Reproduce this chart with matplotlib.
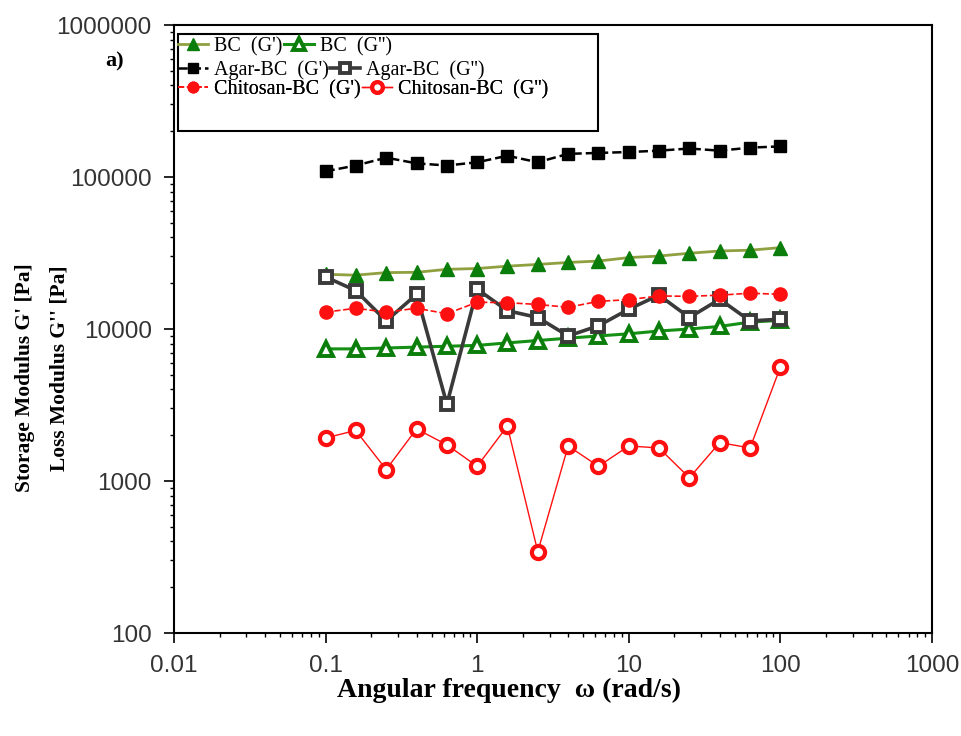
import numpy as np
import matplotlib
matplotlib.use("Agg")
import matplotlib.pyplot as plt
from matplotlib.patches import Rectangle
from matplotlib.ticker import FixedLocator, FixedFormatter, LogLocator, NullFormatter

# angular frequency (rad/s)
omega = [0.1, 0.158, 0.251, 0.398, 0.631, 1.0, 1.58, 2.51, 3.98, 6.31,
         10.0, 15.8, 25.1, 39.8, 63.1, 100.0]

# moduli in Pa
bc_g1 = [22900, 22600, 23500, 23600, 24700, 25000, 25900, 26600, 27400, 28000,
         29500, 30200, 31500, 32600, 33000, 34300]
bc_g2 = [7400, 7400, 7500, 7600, 7700, 7800, 8100, 8400, 8700, 9000,
         9300, 9700, 10000, 10400, 11100, 11400]
agar_g1 = [109000, 119000, 134000, 123000, 119000, 125000, 138000, 125000, 142000, 144000,
           146000, 149000, 154000, 149000, 156000, 159000]
agar_g2 = [22000, 17900, 11300, 16900, 3200, 18300, 13200, 11900, 9000, 10500,
           13500, 16700, 11900, 15700, 11300, 11600]
chit_g1 = [12900, 13700, 12900, 13700, 12600, 15000, 14900, 14500, 13900, 15200,
           15600, 16500, 16400, 16700, 17200, 16900]
chit_g2 = [1920, 2150, 1190, 2200, 1730, 1250, 2300, 343, 1700, 1250,
           1700, 1650, 1050, 1790, 1650, 5620]

x_ticks = [0.01, 0.1, 1, 10, 100, 1000]
x_tick_labels = ["0.01", "0.1", "1", "10", "100", "1000"]
y_ticks = [100, 1000, 10000, 100000, 1000000]
y_tick_labels = ["100", "1000", "10000", "100000", "1000000"]

serif = "Liberation Serif"
sans = "Liberation Sans"

green = "#0b7d0b"
red = "#ff1010"

fig = plt.figure(figsize=(9.62, 7.36), dpi=100)
ax = fig.add_axes([174 / 962, 1 - 633 / 736, 758 / 962, 608 / 736])

l1, = ax.plot(omega, bc_g1, "-", color="#8fa040", lw=2, marker="^", ms=10.5,
              mfc=green, mec=green, label="BC  (G')")
l2, = ax.plot(omega, bc_g2, "-", color="#159015", lw=2.2, marker="^", ms=10.5,
              mfc="white", mec=green, mew=2.8, label="BC  (G'')")
l3, = ax.plot(omega, agar_g1, "--", color="black", lw=1.8, marker="s", ms=8.5,
              mfc="black", mec="black", label="Agar-BC  (G')")
l4, = ax.plot(omega, agar_g2, "-", color="#3a3a3a", lw=2.6, marker="s", ms=8.5,
              mfc="white", mec="#3a3a3a", mew=2.8, label="Agar-BC  (G'')")
l5, = ax.plot(omega, chit_g1, "--", color=red, lw=1.2, marker="o", ms=9.5,
              mfc=red, mec=red, label="Chitosan-BC  (G')")
l6, = ax.plot(omega, chit_g2, "-", color=red, lw=1.0, marker="o", ms=9.5,
              mfc="white", mec=red, mew=3.0, label="Chitosan-BC  (G'')")

ax.set_xscale("log")
ax.set_yscale("log")
ax.set_xlim(0.01, 1000)
ax.set_ylim(100, 1000000)

ax.xaxis.set_major_locator(FixedLocator(x_ticks))
ax.xaxis.set_major_formatter(FixedFormatter(x_tick_labels))
ax.yaxis.set_major_locator(FixedLocator(y_ticks))
ax.yaxis.set_major_formatter(FixedFormatter(y_tick_labels))
for axis in (ax.xaxis, ax.yaxis):
    axis.set_minor_locator(LogLocator(base=10, subs=np.arange(2, 10), numticks=20))
    axis.set_minor_formatter(NullFormatter())

ax.tick_params(which="major", direction="out", length=7, width=1.2, pad=9,
               labelsize=17.5, labelcolor="#333333")
ax.tick_params(which="minor", direction="out", length=3, width=1.0)
for lab in ax.get_xticklabels() + ax.get_yticklabels():
    lab.set_family(sans)
for sp in ax.spines.values():
    sp.set_linewidth(1.5)

# legend: one row per sample, inside a common frame
ax.add_patch(Rectangle((0.005, 0.826), 0.554, 0.159, transform=ax.transAxes,
                       fill=False, lw=1.5, ec="black", zorder=5))
rows = [(l1, l2, 0.987), (l3, l4, 0.949), (l5, l6, 0.916)]
for a, b, ytop in rows:
    leg = ax.legend(handles=[a, b], ncol=2, loc="upper left",
                    bbox_to_anchor=(0.0, ytop), frameon=False,
                    prop={"family": serif, "size": 14.5},
                    handlelength=1.5, handletextpad=0.3, columnspacing=0.05,
                    borderpad=0.2, borderaxespad=0.0, markerscale=0.8)
    ax.add_artist(leg)

fig.text(115 / 962, 1 - 61 / 736, "a)", family=serif, weight="bold", size=16,
         ha="center", va="center")

fig.text(509 / 962, 1 - 690 / 736, "Angular frequency  \u03c9 (rad/s)",
         family=serif, weight="bold", size=20, ha="center", va="center")
fig.text(25 / 962, 1 - 263 / 736, "Storage Modulus G' [Pa]", family=serif,
         weight="bold", size=15.5, rotation=90, ha="center", va="top")
fig.text(60 / 962, 1 - 265 / 736, "Loss Modulus G'' [Pa]", family=serif,
         weight="bold", size=15.5, rotation=90, ha="center", va="top")

fig.savefig("out.png", dpi=100)
